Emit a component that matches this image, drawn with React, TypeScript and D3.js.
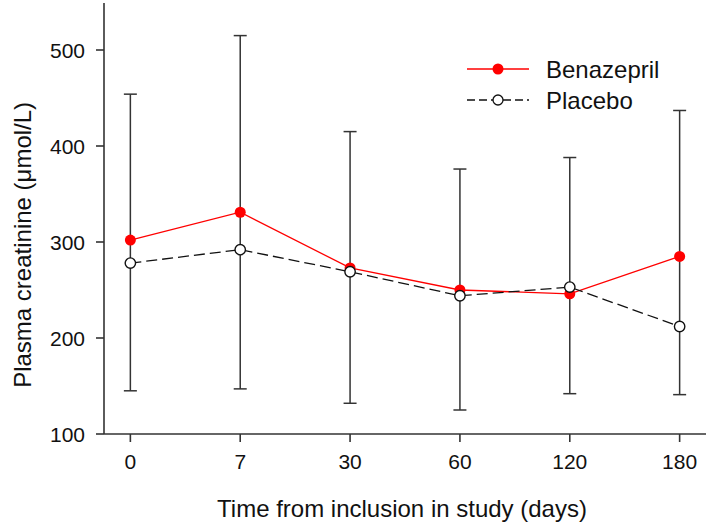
import React from "react";
import * as d3 from "d3";

const categories = ["0", "7", "30", "60", "120", "180"];
const benazepril = [302, 331, 273, 250, 246, 285];
const placebo = [278, 292, 269, 244, 253, 212];
const errUpper = [454, 515, 415, 376, 388, 437];
const errLower = [145, 147, 132, 125, 142, 141];
const yTicks = [100, 200, 300, 400, 500];

const W = 709;
const H = 529;
const FONT = "'Liberation Sans', Arial, sans-serif";

export default function App() {
  const x = d3.scalePoint<string>().domain(categories).range([104, 706]).padding(0.24);
  const y = d3.scaleLinear().domain([100, 500]).range([434, 50]);
  const yTop = y(549);

  const seriesLine = d3
    .line<number>()
    .x((_, i) => x(categories[i]) as number)
    .y((d) => y(d));

  const axisColor = "#333";

  return (
    <svg
      width={W}
      height={H}
      style={{ position: "absolute", left: 0, top: 0, background: "#fff" }}
      fontFamily={FONT}
    >
      {/* axes */}
      <line x1={104} x2={104} y1={yTop} y2={434} stroke={axisColor} strokeWidth={1.6} />
      <line x1={104} x2={706} y1={434} y2={434} stroke={axisColor} strokeWidth={1.6} />
      {yTicks.map((t) => (
        <g key={t}>
          <line x1={96} x2={104} y1={y(t)} y2={y(t)} stroke={axisColor} strokeWidth={1.6} />
          <text x={85} y={y(t)} dy="0.36em" textAnchor="end" fontSize={21} fill="#111">
            {t}
          </text>
        </g>
      ))}
      {categories.map((c) => (
        <g key={c}>
          <line x1={x(c)} x2={x(c)} y1={434} y2={442} stroke={axisColor} strokeWidth={1.6} />
          <text x={x(c)} y={469} textAnchor="middle" fontSize={21} fill="#111">
            {c}
          </text>
        </g>
      ))}
      <text x={402} y={517} textAnchor="middle" fontSize={24} fill="#111">
        Time from inclusion in study (days)
      </text>
      <text
        transform={`translate(31,${y(297)}) rotate(-90)`}
        textAnchor="middle"
        fontSize={24}
        fill="#111"
      >
        Plasma creatinine (μmol/L)
      </text>

      {/* error bars */}
      {categories.map((c, i) => {
        const cx = x(c) as number;
        return (
          <g key={"e" + c} stroke={axisColor} strokeWidth={1.5}>
            <line x1={cx} x2={cx} y1={y(errLower[i])} y2={y(errUpper[i])} />
            <line x1={cx - 6.5} x2={cx + 6.5} y1={y(errUpper[i])} y2={y(errUpper[i])} />
            <line x1={cx - 6.5} x2={cx + 6.5} y1={y(errLower[i])} y2={y(errLower[i])} />
          </g>
        );
      })}

      {/* series */}
      <path d={seriesLine(benazepril) || ""} fill="none" stroke="#ff0000" strokeWidth={1.3} />
      <path
        d={seriesLine(placebo) || ""}
        fill="none"
        stroke="#111"
        strokeWidth={1.3}
        strokeDasharray="11,5"
      />
      {benazepril.map((v, i) => (
        <circle key={"b" + i} cx={x(categories[i])} cy={y(v)} r={5.5} fill="#ff0000" />
      ))}
      {placebo.map((v, i) => (
        <circle
          key={"p" + i}
          cx={x(categories[i])}
          cy={y(v)}
          r={5.2}
          fill="#fff"
          stroke="#111"
          strokeWidth={1.4}
        />
      ))}

      {/* legend */}
      <line x1={467} x2={529} y1={69} y2={69} stroke="#ff0000" strokeWidth={1.3} />
      <circle cx={498} cy={69} r={5.5} fill="#ff0000" />
      <text x={546} y={77.5} fontSize={24} fill="#111">
        Benazepril
      </text>
      <line
        x1={467}
        x2={529}
        y1={100}
        y2={100}
        stroke="#111"
        strokeWidth={1.3}
        strokeDasharray="8,4"
      />
      <circle cx={498} cy={100} r={5} fill="#fff" stroke="#111" strokeWidth={1.3} />
      <text x={546} y={108.5} fontSize={24} fill="#111">
        Placebo
      </text>
    </svg>
  );
}
